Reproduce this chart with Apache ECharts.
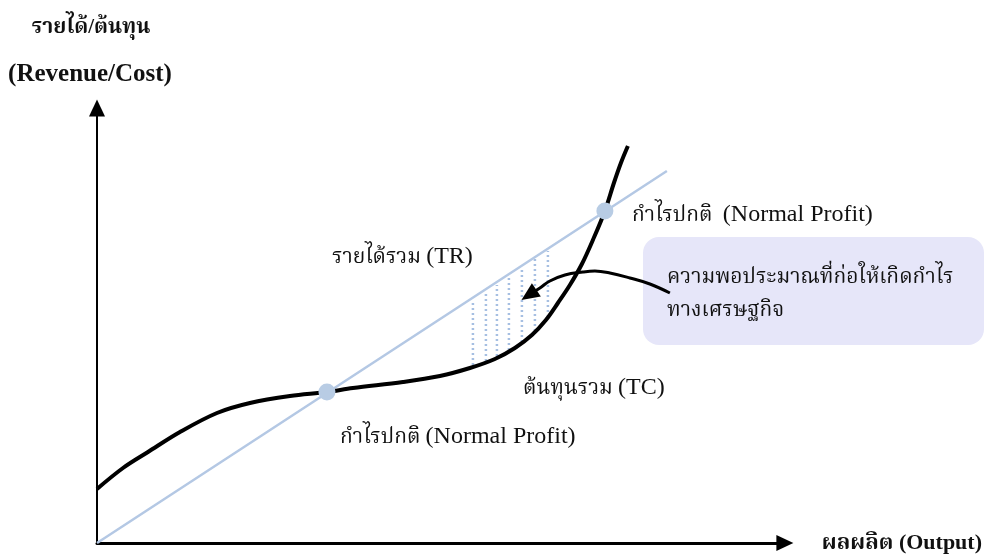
<!DOCTYPE html>
<html><head><meta charset="utf-8">
<script src="https://cdn.jsdelivr.net/npm/echarts@6/dist/echarts.min.js"></script>
<style>html,body{margin:0;padding:0;background:#fff}#c{width:985px;height:556px}</style>
</head><body><div id="c"></div>
<script>
// ---- data (x = output, y = revenue/cost) ----
const trLine = [[0, 0], [570, 372]];
const tcCurve = [
  [0, 54], [26, 75], [51, 91], [83, 111], [120, 130], [153, 140], [193, 147],
  [230, 151], [256, 155], [306, 161], [343, 167], [373, 175], [398, 184],
  [418, 195], [435, 208], [449, 223], [461, 240], [473, 258], [485, 279],
  [496, 303], [508, 332], [517, 360], [524, 380], [531, 397]
];
const normalProfitPoints = [[230, 151], [508, 332]];
const hatchX = [376, 389, 400, 412, 425, 438, 451];
const hatchTop = [243, 251, 258, 266, 275, 284, 292];
const hatchBottom = [178, 182, 187, 193, 201, 212, 226];
const arrowPath = [[573, 250], [553, 259], [533, 265], [513, 270], [498, 272],
  [486, 271], [468, 268], [453, 262], [443, 255], [432, 248]];

const yTitleTh = 'รายได้/ต้นทุน';
const yTitleEn = '(Revenue/Cost)';
const xTitle = 'ผลผลิต (Output)';
const trLabel = ['รายได้รวม', '(TR)'];
const tcLabel = ['ต้นทุนรวม', '(TC)'];
const npLabelTop = ['กำไรปกติ ', '(Normal Profit)'];
const npLabelBottom = ['กำไรปกติ', '(Normal Profit)'];
const boxLines = ['ความพอประมาณที่ก่อให้เกิดกำไร', 'ทางเศรษฐกิจ'];

// ---- chart ----
const FONT = "'Liberation Serif', 'Noto Serif Thai', 'Noto Sans Thai', 'DejaVu Serif', serif";
const chart = echarts.init(document.getElementById('c'), null, {renderer: 'canvas'});

const hatchSeries = hatchX.map((x, i) => ({
  type: 'line', silent: true, symbol: 'none', z: 2,
  data: [[x, hatchBottom[i]], [x, hatchTop[i]]],
  lineStyle: {color: '#a6bfe2', width: 2.5, type: [2, 3]}
}));

const arrowData = arrowPath.map((p, i) => i === arrowPath.length - 1
  ? {value: p, symbol: 'triangle', symbolSize: [16, 18], symbolRotate: 124,
     itemStyle: {color: '#000'}}
  : {value: p, symbol: 'none'});

const rich = {
  th: {fontFamily: FONT, fontSize: 21, fill: '#111', color: '#111'},
  en: {fontFamily: FONT, fontSize: 24, fill: '#111', color: '#111'}
};
const txt = (text, x, y, extra) => ({
  type: 'text', x, y, silent: true, z: 50,
  style: Object.assign({text, fill: '#111', font: '21px ' + FONT,
    textVerticalAlign: 'middle', verticalAlign: 'middle', rich}, extra || {})
});
const mixed = (parts) => '{th|' + parts[0] + '} {en|' + parts[1] + '}';

chart.setOption({
  animation: false,
  backgroundColor: '#fff',
  grid: {left: 97, top: 108, width: 688, height: 435},
  xAxis: {
    type: 'value', min: 0, max: 688,
    axisLine: {show: true, onZero: false, symbol: ['none', 'triangle'], symbolSize: [16, 17],
      lineStyle: {color: '#000', width: 3}},
    axisTick: {show: false}, axisLabel: {show: false}, splitLine: {show: false},
    name: xTitle, nameLocation: 'end', nameGap: 37,
    nameTextStyle: {fontFamily: FONT, fontWeight: 'bold', fontSize: 22, color: '#111',
      align: 'left', verticalAlign: 'middle'}
  },
  yAxis: {
    type: 'value', min: 0, max: 435,
    axisLine: {show: true, onZero: false, symbol: ['none', 'triangle'], symbolSize: [16, 17],
      lineStyle: {color: '#000', width: 2}},
    axisTick: {show: false}, axisLabel: {show: false}, splitLine: {show: false}
  },
  graphic: [
    txt(yTitleTh, 91, 28, {font: 'bold 21px ' + FONT, textAlign: 'center', align: 'center'}),
    txt(yTitleEn, 90, 75, {font: 'bold 25px ' + FONT, textAlign: 'center', align: 'center'}),
    {type: 'rect', z: 1, silent: true,
      shape: {x: 643, y: 237, width: 341, height: 108, r: 16},
      style: {fill: '#e6e6f9'}},
    txt(boxLines[0], 667, 277),
    txt(boxLines[1], 667, 310),
    txt(mixed(trLabel), 332, 257),
    txt(mixed(npLabelTop), 632, 215),
    txt(mixed(tcLabel), 523, 388),
    txt(mixed(npLabelBottom), 340, 437)
  ],
  series: [
    ...hatchSeries,
    {type: 'line', name: 'TR', data: trLine, symbol: 'none', z: 3, silent: true,
      lineStyle: {color: '#b4c8e4', width: 2.5}},
    {type: 'line', name: 'TC', data: tcCurve, symbol: 'none', smooth: 0.35, z: 4, silent: true,
      lineStyle: {color: '#000', width: 4}},
    {type: 'line', name: 'arrow', data: arrowData, smooth: 0.4, z: 6, silent: true,
      lineStyle: {color: '#000', width: 3}, itemStyle: {color: '#000'}},
    {type: 'scatter', name: 'Normal Profit', data: normalProfitPoints, symbolSize: 17, z: 8,
      silent: true, itemStyle: {color: '#b8cce4', opacity: 1}}
  ]
});
</script></body></html>
